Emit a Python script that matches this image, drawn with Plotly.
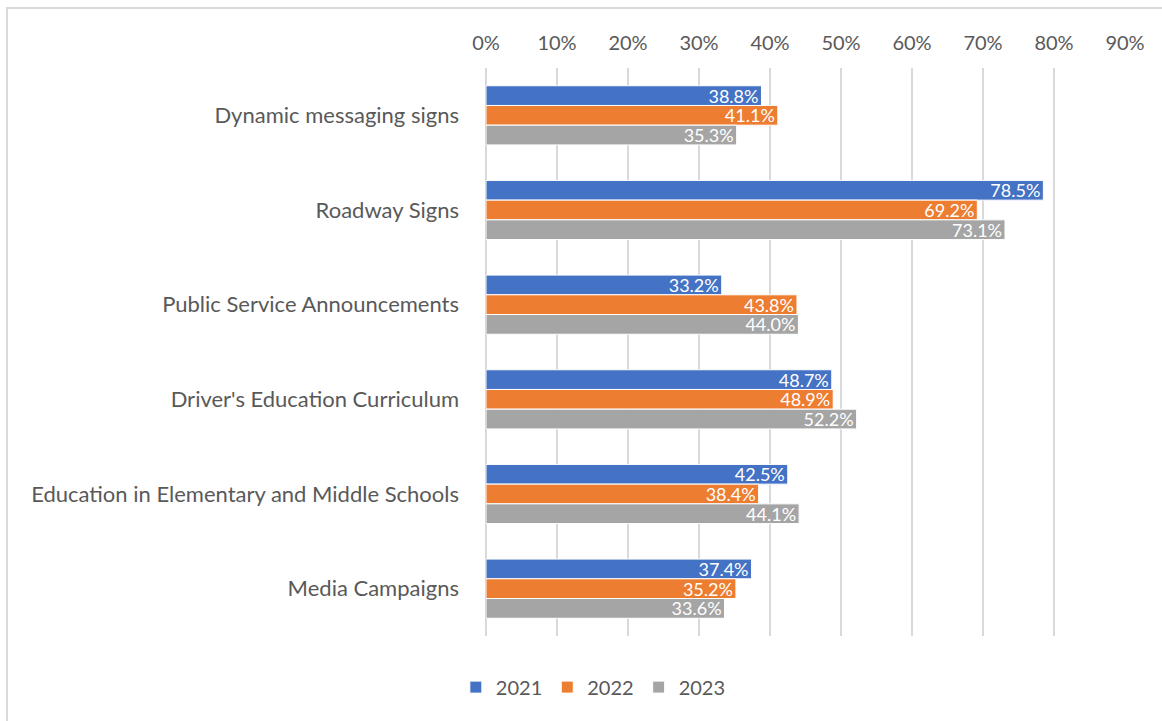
import plotly.graph_objects as go

categories = [
    "Dynamic messaging signs",
    "Roadway Signs",
    "Public Service Announcements",
    "Driver's Education Curriculum",
    "Education in Elementary and Middle Schools",
    "Media Campaigns",
]
years = ["2021", "2022", "2023"]
values_2021 = [0.388, 0.785, 0.332, 0.487, 0.425, 0.374]
values_2022 = [0.411, 0.692, 0.438, 0.489, 0.384, 0.352]
values_2023 = [0.353, 0.731, 0.440, 0.522, 0.441, 0.336]
tick_vals = [0, 0.1, 0.2, 0.3, 0.4, 0.5, 0.6, 0.7, 0.8, 0.9]
tick_text = ["0%", "10%", "20%", "30%", "40%", "50%", "60%", "70%", "80%", "90%"]

colors = ["#4472C4", "#ED7D31", "#A5A5A5"]
FONT = "Lato"
TEXT_GREY = "#595959"

fig = go.Figure()
for name, vals, col in zip(years, [values_2021, values_2022, values_2023], colors):
    fig.add_trace(go.Bar(
        y=categories,
        x=vals,
        name=name,
        orientation="h",
        marker=dict(color=col, line=dict(color="white", width=1)),
        texttemplate="%{x:.1%}",
        textposition="inside",
        insidetextanchor="end",
        textangle=0,
        constraintext="none",
        textfont=dict(color="white", size=18, family=FONT),
        cliponaxis=False,
    ))

fig.update_layout(
    width=1162,
    height=721,
    barmode="group",
    bargap=0.375,
    bargroupgap=0,
    plot_bgcolor="white",
    paper_bgcolor="white",
    margin=dict(l=486, r=37, t=68, b=85),
    font=dict(family=FONT, color=TEXT_GREY, size=20),
    xaxis=dict(
        side="top",
        range=[0, 0.9],
        tickvals=tick_vals,
        ticktext=tick_text,
        showgrid=True,
        gridcolor="#D9D9D9",
        gridwidth=1.5,
        zeroline=True,
        zerolinecolor="#D9D9D9",
        zerolinewidth=1.5,
        showline=False,
        ticklabelstandoff=13,
        tickfont=dict(size=20, color=TEXT_GREY),
    ),
    yaxis=dict(
        autorange="reversed",
        showgrid=False,
        showline=False,
        ticklabelstandoff=26,
        tickfont=dict(size=22, color=TEXT_GREY),
    ),
    legend=dict(
        orientation="h",
        x=0.168,
        xanchor="center",
        y=-0.09,
        yanchor="middle",
        font=dict(size=20, color=TEXT_GREY),
        traceorder="normal",
    ),
    shapes=[dict(
        type="rect", xref="paper", yref="paper",
        x0=-0.7496, x1=1.2, y0=-0.5, y1=1.1056,
        line=dict(color="#D9D9D9", width=2),
        fillcolor="rgba(0,0,0,0)",
        layer="below",
    )],
)

fig.write_html("out.html")
